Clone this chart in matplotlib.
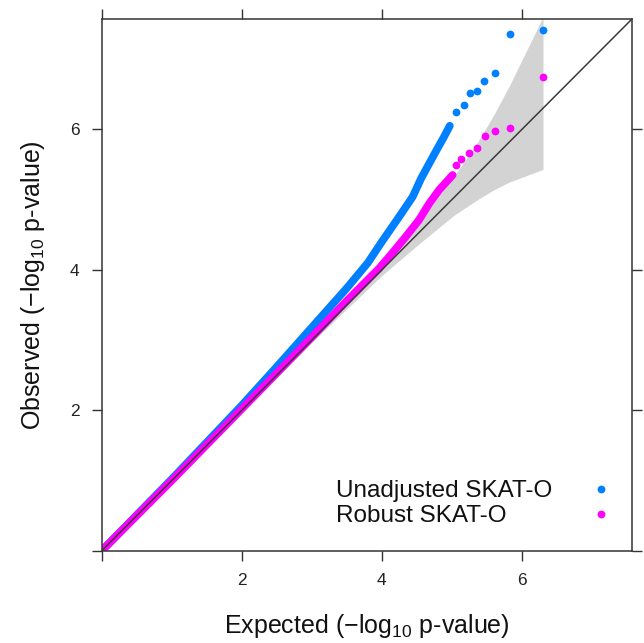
import matplotlib
matplotlib.use("Agg")
import matplotlib.pyplot as plt

plt.rcParams['font.family'] = ['Liberation Sans', 'DejaVu Sans']
plt.rcParams['mathtext.fontset'] = 'custom'
plt.rcParams['mathtext.rm'] = 'Liberation Sans'
plt.rcParams['mathtext.it'] = 'Liberation Sans:italic'
plt.rcParams['mathtext.bf'] = 'Liberation Sans:bold'

# ---- data ----
blue_dense_x = [0.0, 1.0, 2.0, 2.5, 3.0, 3.5, 3.8, 4.0, 4.25, 4.44, 4.56, 4.68, 4.79, 4.88, 4.97]
blue_dense_y = [0.0, 1.02, 2.07, 2.62, 3.18, 3.74, 4.10, 4.40, 4.76, 5.04, 5.30, 5.52, 5.72, 5.88, 6.05]
blue_tail_x = [5.06, 5.17, 5.26, 5.36, 5.46, 5.62, 5.83, 6.30]
blue_tail_y = [6.25, 6.35, 6.51, 6.55, 6.69, 6.80, 7.36, 7.42]

mag_dense_x = [0.0, 1.0, 2.0, 3.0, 3.5, 3.96, 4.15, 4.34, 4.53, 4.68, 4.82, 5.01]
mag_dense_y = [0.0, 1.0, 2.02, 3.04, 3.56, 4.02, 4.24, 4.47, 4.71, 4.95, 5.14, 5.35]
mag_tail_x = [5.06, 5.13, 5.25, 5.36, 5.47, 5.62, 5.83, 6.30]
mag_tail_y = [5.49, 5.58, 5.66, 5.74, 5.91, 5.98, 6.02, 6.74]

band_x = [0.0, 2.0, 3.0, 4.0, 4.53, 5.02, 5.35, 5.60, 5.82, 6.30]
band_upper = [0.0, 2.01, 3.03, 4.09, 4.69, 5.32, 5.79, 6.21, 6.62, 7.60]
band_lower = [0.0, 1.99, 2.97, 3.92, 4.37, 4.77, 4.99, 5.14, 5.25, 5.43]

series_labels = ["Unadjusted SKAT-O", "Robust SKAT-O"]
tick_vals = [0, 2, 4, 6]
tick_labels = ["", "2", "4", "6"]
lim = 7.57

BLUE = "#0080ff"
MAG = "#ff00ff"

fig = plt.figure(figsize=(6.44, 6.43), dpi=100)
ax = fig.add_axes([101.5 / 644, 92 / 643, 530.5 / 644, 532 / 643])

# confidence band
ax.fill_between(band_x, band_lower, band_upper, color="#d3d3d3", lw=0, zorder=1)

msize = 5.6  # points
for dx, dy, tx, ty, col in [(blue_dense_x, blue_dense_y, blue_tail_x, blue_tail_y, BLUE),
                            (mag_dense_x, mag_dense_y, mag_tail_x, mag_tail_y, MAG)]:
    ax.plot(dx, dy, color=col, lw=msize, solid_capstyle="round", solid_joinstyle="round", zorder=2)
    ax.scatter(tx, ty, s=msize ** 2, color=col, lw=0, zorder=2)

# identity line
ax.plot([0, lim], [0, lim], color="#3a3a3a", lw=1.1, zorder=3)

ax.set_xlim(0, lim)
ax.set_ylim(0, lim)
ax.set_xticks(tick_vals)
ax.set_xticklabels(tick_labels)
ax.set_yticks(tick_vals)
ax.set_yticklabels(tick_labels)
ax.tick_params(axis="both", which="both", direction="out", length=7, width=1,
               color="#333333", labelsize=12.5, labelcolor="#222222",
               top=True, right=True, labeltop=False, labelright=False, pad=9)
for sp in ax.spines.values():
    sp.set_color("#333333")
    sp.set_linewidth(1.1)

ax.set_xlabel("Expected (\u2212log$_{10}$ p-value)", fontsize=18, labelpad=17, color="#111111")
ax.set_ylabel("Observed (\u2212log$_{10}$ p-value)", fontsize=18, labelpad=16, color="#111111")

# legend (key drawn inside the panel, text left-aligned, symbols to the right)
leg_text_x = 0.442
leg_sym_x = 0.9416
leg_ys = [0.113, 0.066]
for lab, col, yy in zip(series_labels, (BLUE, MAG), leg_ys):
    ax.text(leg_text_x, yy, lab, transform=ax.transAxes, fontsize=17.5,
            ha="left", va="center", color="#111111")
    ax.plot([leg_sym_x], [yy + 0.003], transform=ax.transAxes, ls="", marker="o",
            ms=4.6, mfc=col, mec=col, clip_on=False)

fig.savefig("out.png", dpi=100)
